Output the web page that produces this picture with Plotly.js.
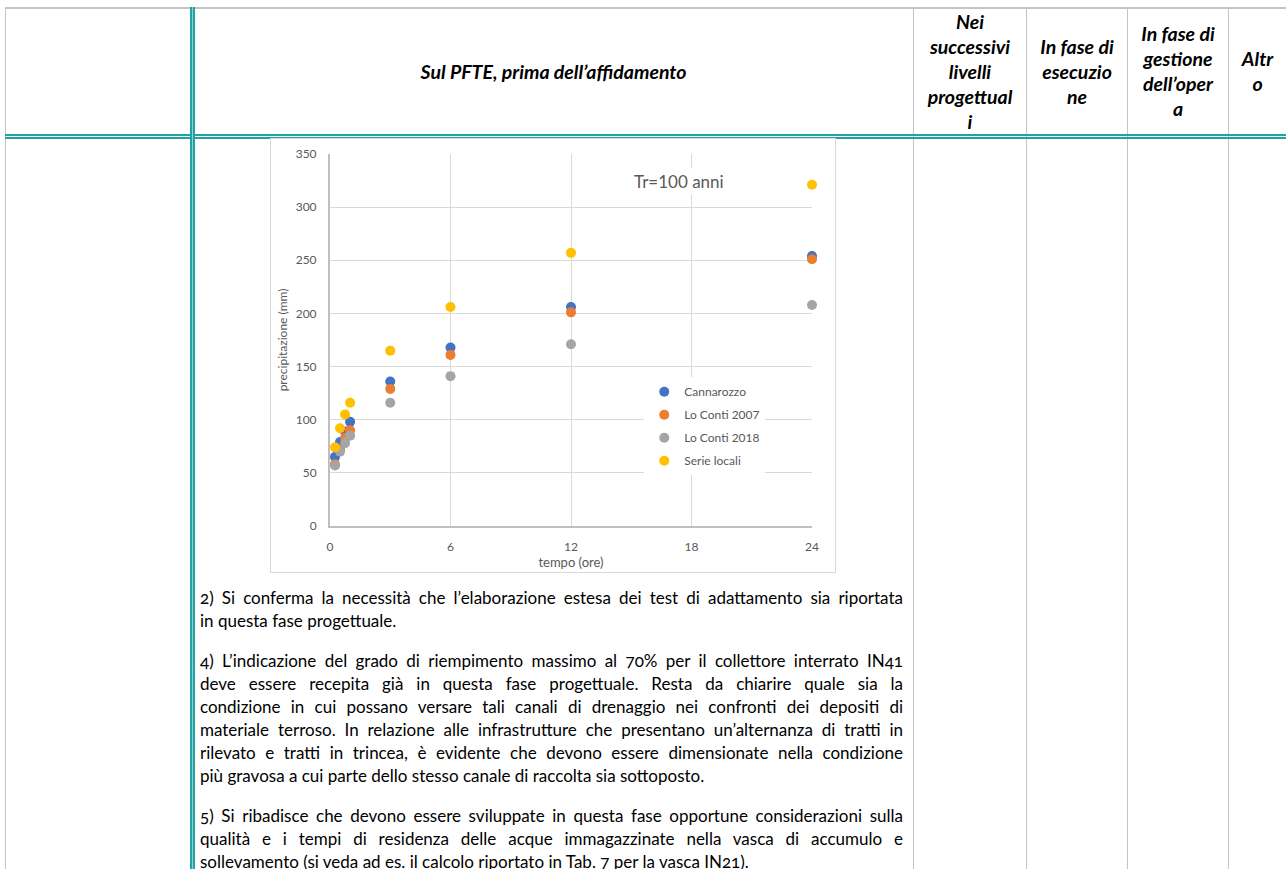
<!DOCTYPE html>
<html>
<head>
<meta charset="utf-8">
<script src="https://cdn.plot.ly/plotly-3.0.1.min.js"></script>
<style>
  html, body { margin: 0; padding: 0; background: #fff; }
  body { width: 1286px; height: 869px; position: relative; overflow: hidden; font-family: Lato, "Open Sans", sans-serif; }
  .ln { position: absolute; }
  .g { background: #c4c4c4; }
  .hd { position: absolute; top: 8px; height: 126px; display: flex; align-items: center; justify-content: center; text-align: center;
        font-weight: bold; font-style: italic; font-size: 19.5px; line-height: 25px; color: #000; }
  .tl { position: absolute; left: 200px; width: 703px; height: 23px; line-height: 23px; font-size: 17px; color: #000;
        white-space: nowrap; text-align: justify; text-align-last: justify; font-variant-numeric: oldstyle-nums; }
  .tl.last { text-align-last: left; }
  #chartbox { position: absolute; left: 270px; top: 138px; width: 564px; height: 433px; border: 1px solid #d9d9d9; }
  #chart { position: absolute; left: 0; top: 0; width: 565px; height: 434px; }
</style>
</head>
<body>
<!-- table borders -->
<div class="ln g" style="left:5px; top:7px; width:1281px; height:2px;"></div>
<div class="ln g" style="left:5px; top:7px; width:1px; height:862px;"></div>
<div class="ln g" style="left:913px; top:7px; width:1px; height:862px;"></div>
<div class="ln g" style="left:1026px; top:7px; width:1px; height:862px;"></div>
<div class="ln g" style="left:1127px; top:7px; width:1px; height:862px;"></div>
<div class="ln g" style="left:1228px; top:7px; width:1px; height:862px;"></div>
<div class="ln" style="left:5px; top:134px; width:1281px; height:1.5px; background:#22a3a3;"></div>
<div class="ln" style="left:5px; top:137px; width:1281px; height:1.5px; background:#22a3a3;"></div>
<div class="ln" style="left:190px; top:7px; width:1.5px; height:862px; background:#22a3a3;"></div>
<div class="ln" style="left:191.5px; top:7px; width:1.5px; height:862px; background:#8fd0d0;"></div>
<div class="ln" style="left:193px; top:7px; width:1.5px; height:862px; background:#22a3a3;"></div>

<!-- header cells -->
<div class="hd" style="left:194px; width:719px;">Sul PFTE, prima dell’affidamento</div>
<div class="hd" style="left:914px; width:112px;">Nei<br>successivi<br>livelli<br>progettual<br>i</div>
<div class="hd" style="left:1027px; width:100px;">In fase di<br>esecuzio<br>ne</div>
<div class="hd" style="left:1128px; width:100px;">In fase di<br>gestione<br>dell’oper<br>a</div>
<div class="hd" style="left:1229px; width:57px;">Altr<br>o</div>

<div id="chartbox"></div>
<div id="chart" style="left:270px; top:138px;"></div>

<div id="text"></div>

<script>
// ---- chart data ----
const durations = [0.25, 0.5, 0.75, 1, 3, 6, 12, 24];
const cannarozzo = [65, 79, 89, 98, 136, 168, 206, 254];
const loConti2007 = [58, 72, 83, 90, 129, 161, 201, 251];
const loConti2018 = [57, 70, 78, 85, 116, 141, 171, 208];
const serieLocali = [74, 92, 105, 116, 165, 206, 257, 321];
const seriesNames = ["Cannarozzo", "Lo Conti 2007", "Lo Conti 2018", "Serie locali"];
const seriesColors = ["#4472C4", "#ED7D31", "#A5A5A5", "#FFC000"];
const xTicks = [0, 6, 12, 18, 24];
const yTicks = [0, 50, 100, 150, 200, 250, 300, 350];

// ---- body text lines ----
const paragraphs = [
  [597, [
    "2) Si conferma la necessità che l’elaborazione estesa dei test di adattamento sia riportata",
    "in questa fase progettuale."]],
  [660, [
    "4) L’indicazione del grado di riempimento massimo al 70% per il collettore interrato IN41",
    "deve essere recepita già in questa fase progettuale. Resta da chiarire quale sia la",
    "condizione in cui possano versare tali canali di drenaggio nei confronti dei depositi di",
    "materiale terroso. In relazione alle infrastrutture che presentano un’alternanza di tratti in",
    "rilevato e tratti in trincea, è evidente che devono essere dimensionate nella condizione",
    "più gravosa a cui parte dello stesso canale di raccolta sia sottoposto."]],
  [815, [
    "5) Si ribadisce che devono essere sviluppate in questa fase opportune considerazioni sulla",
    "qualità e i tempi di residenza delle acque immagazzinate nella vasca di accumulo e",
    "sollevamento (si veda ad es. il calcolo riportato in Tab. 7 per la vasca IN21)."]]
];
const textHost = document.getElementById('text');
paragraphs.forEach(([y0, lines]) => {
  lines.forEach((t, i) => {
    const d = document.createElement('div');
    d.className = 'tl' + (i === lines.length - 1 ? ' last' : '');
    d.style.top = (y0 - 11.5 + i * 23) + 'px';
    d.textContent = t;
    textHost.appendChild(d);
  });
});

const allValues = [cannarozzo, loConti2007, loConti2018, serieLocali];
const traces = allValues.map((vals, i) => ({
  type: 'scatter', mode: 'markers', x: durations, y: vals, name: seriesNames[i],
  legendgroup: 'g' + i,
  marker: { color: seriesColors[i], size: 10, line: { width: 0 } },
  cliponaxis: false
}));

const FF = 'Lato, "Open Sans", sans-serif';
const tickFont = { family: FF, size: 12, color: '#595959' };
const layout = {
  width: 565, height: 434,
  margin: { l: 60, r: 23, t: 16, b: 46 },
  paper_bgcolor: 'rgba(0,0,0,0)', plot_bgcolor: '#fff',
  showlegend: true,
  xaxis: {
    range: [0, 24], tickvals: xTicks, ticktext: xTicks.map(String), ticks: '',
    showgrid: true, gridcolor: '#d9d9d9', gridwidth: 1, zeroline: false,
    showline: true, linecolor: '#bfbfbf', linewidth: 1.5, mirror: false,
    tickfont: tickFont, ticklabelstandoff: 9,
    title: { text: 'tempo (ore)', font: { family: FF, size: 13, color: '#595959' }, standoff: 5 }
  },
  yaxis: {
    range: [0, 350], tickvals: yTicks, ticktext: yTicks.map(String), ticks: '',
    showgrid: true, gridcolor: '#d9d9d9', gridwidth: 1, zeroline: false,
    showline: true, linecolor: '#bfbfbf', linewidth: 2,
    tickfont: tickFont, ticklabelstandoff: 9,
    title: { text: 'precipitazione (mm)', font: { family: FF, size: 12, color: '#595959' }, standoff: 6 }
  },
  legend: {
    x: 0.652, y: 0.40, xanchor: 'left', yanchor: 'top',
    bgcolor: '#ffffff', borderwidth: 0,
    font: { family: FF, size: 12, color: '#595959' },
    tracegroupgap: 4, traceorder: 'grouped', itemwidth: 30
  },
  annotations: [{
    xref: 'x', yref: 'y', x: 17.4, y: 324, text: 'Tr=100 anni', showarrow: false,
    font: { family: FF, size: 17, color: '#595959' },
    bgcolor: '#ffffff', borderpad: 2
  }]
};
Plotly.newPlot('chart', traces, layout, { staticPlot: true, displayModeBar: false });
</script>
</body>
</html>
